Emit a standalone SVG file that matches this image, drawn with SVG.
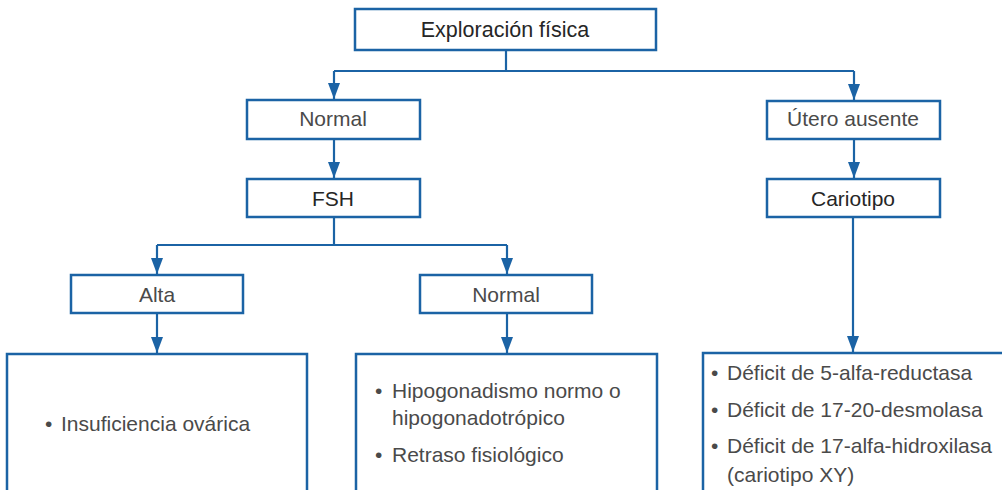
<svg xmlns="http://www.w3.org/2000/svg" width="1002" height="490" viewBox="0 0 1002 490">
<defs>
<style>
.box{fill:#fff;stroke:#1b63a5;stroke-width:2.5}
.ln{fill:none;stroke:#1b63a5;stroke-width:2.2}
.t{font-family:"Liberation Sans",Arial,sans-serif;font-size:21px;fill:#262626}
.tl{font-family:"Liberation Sans",Arial,sans-serif;font-size:21px;fill:#4a4a4a}
.c{text-anchor:middle}
</style>
<marker id="arr" viewBox="0 0 12 16" refX="6" refY="16" markerWidth="12" markerHeight="16" markerUnits="userSpaceOnUse" orient="auto-start-reverse">
<path d="M0,0 L12,0 L6,16 Z" fill="#1b63a5" transform="rotate(0)"/>
</marker>
</defs>
<g id="connectors">
<path class="ln" d="M506,50 V71"/>
<path class="ln" d="M334,71 H854"/>
<path class="ln" d="M334,71 V100"/>
<path class="ln" d="M854,71 V101"/>
<path class="ln" d="M334,139 V179"/>
<path class="ln" d="M854,139 V179"/>
<path class="ln" d="M334,217 V245"/>
<path class="ln" d="M157,245 H507"/>
<path class="ln" d="M157,245 V275"/>
<path class="ln" d="M507,245 V275"/>
<path class="ln" d="M157,313 V354"/>
<path class="ln" d="M507,313 V354"/>
<path class="ln" d="M853,217 V353"/>
<g fill="#1b63a5">
<path d="M328,83 L340,83 L334,99 Z"/>
<path d="M848,84 L860,84 L854,100 Z"/>
<path d="M328,162 L340,162 L334,178 Z"/>
<path d="M848,162 L860,162 L854,178 Z"/>
<path d="M151,258 L163,258 L157,274 Z"/>
<path d="M501,258 L513,258 L507,274 Z"/>
<path d="M151,337 L163,337 L157,353 Z"/>
<path d="M501,337 L513,337 L507,353 Z"/>
<path d="M847,336 L859,336 L853,352 Z"/>
</g>
</g>
<g id="n-exploracion">
<rect class="box" x="355" y="9" width="301" height="41"/>
<text class="t c" x="505" y="37" style="font-size:21.5px">Exploración física</text>
</g>
<g id="n-normal1">
<rect class="box" x="247" y="100" width="173" height="39"/>
<text class="tl c" x="333" y="126">Normal</text>
</g>
<g id="n-utero">
<rect class="box" x="767" y="101" width="173" height="38"/>
<text class="tl c" x="853" y="126">Útero ausente</text>
</g>
<g id="n-fsh">
<rect class="box" x="247" y="179" width="173" height="38"/>
<text class="t c" x="333" y="206">FSH</text>
</g>
<g id="n-cariotipo">
<rect class="box" x="767" y="179" width="173" height="38"/>
<text class="t c" x="853" y="206">Cariotipo</text>
</g>
<g id="n-alta">
<rect class="box" x="71" y="275" width="172" height="38"/>
<text class="tl c" x="157" y="302">Alta</text>
</g>
<g id="n-normal2">
<rect class="box" x="420" y="275" width="172" height="38"/>
<text class="tl c" x="506" y="302">Normal</text>
</g>
<g id="n-insuficiencia">
<rect class="box" x="7" y="354" width="300" height="150"/>
<text class="tl" x="45" y="431">•</text>
<text class="tl" x="61" y="431">Insuficiencia ovárica</text>
</g>
<g id="n-hipogonadismo">
<rect class="box" x="356" y="354" width="301" height="150"/>
<text class="tl" x="375" y="398">•</text>
<text class="tl" x="392" y="398">Hipogonadismo normo o</text>
<text class="tl" x="392" y="425">hipogonadotrópico</text>
<text class="tl" x="375" y="462">•</text>
<text class="tl" x="392" y="462">Retraso fisiológico</text>
</g>
<g id="n-deficit">
<rect class="box" x="703" y="353" width="320" height="150"/>
<text class="tl" x="711" y="380">•</text>
<text class="tl" x="727" y="380">Déficit de 5-alfa-reductasa</text>
<text class="tl" x="711" y="417">•</text>
<text class="tl" x="727" y="417">Déficit de 17-20-desmolasa</text>
<text class="tl" x="711" y="453">•</text>
<text class="tl" x="727" y="453">Déficit de 17-alfa-hidroxilasa</text>
<text class="tl" x="727" y="482">(cariotipo XY)</text>
</g>
</svg>
